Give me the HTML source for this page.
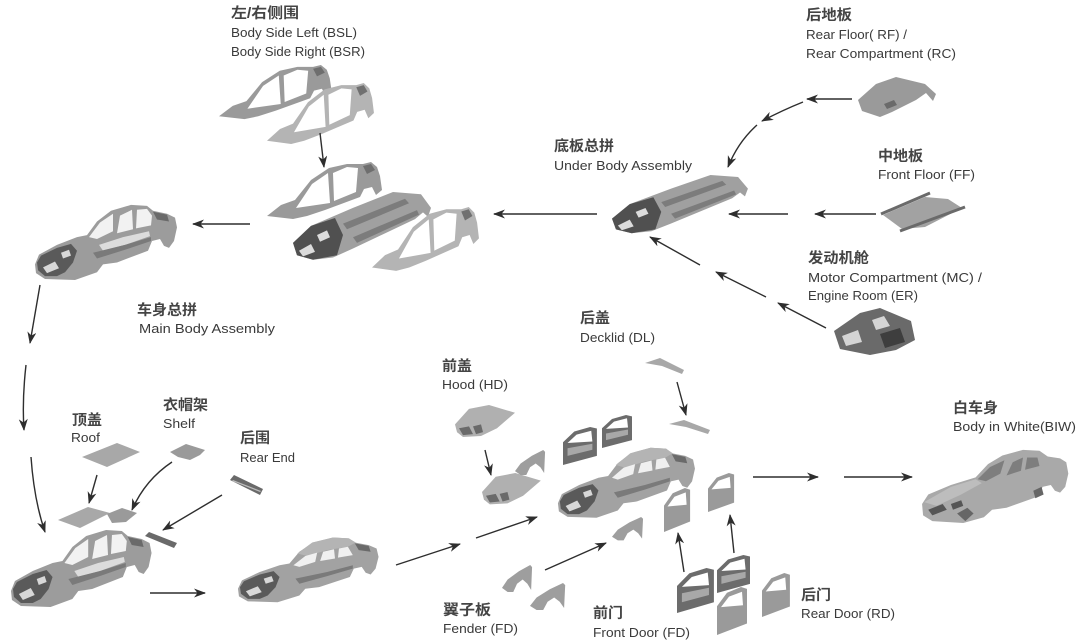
<!DOCTYPE html>
<html>
<head>
<meta charset="utf-8">
<style>
html,body{margin:0;padding:0;background:#fff;}
svg{display:block;}
.cn{font-family:"Liberation Sans","Noto Sans CJK SC",sans-serif;font-size:14.5px;font-weight:bold;fill:#444;}
.en{font-family:"Liberation Sans","Noto Sans CJK SC",sans-serif;font-size:12.5px;fill:#3a3a3a;}
.ar{stroke:#2e2e2e;stroke-width:1.4;fill:none;marker-end:url(#ah);}
</style>
</head>
<body>
<svg width="1080" height="643" viewBox="0 0 1080 643" xmlns="http://www.w3.org/2000/svg">
<defs>
  <marker id="ah" markerUnits="userSpaceOnUse" markerWidth="12" markerHeight="10" refX="11" refY="4.5" orient="auto">
    <path d="M0,0 L12,4.5 L0,9 L3.5,4.5 Z" fill="#2e2e2e"/>
  </marker>
  <!-- open frame car, 144x80 -->
  <g id="car">
    <path fill="#9c9c9c" d="M2,64 L6,54 L24,44 L44,36 L54,34 L64,20 L78,9 L98,3 L114,4 L120,9 L134,12 L142,16 L144,26 L141,40 L136,47 L131,45 L127,38 L119,40 L115,50 L84,62 L70,64 L64,72 L42,80 L12,79 L3,73 Z"/>
    <path fill="#f2f2f2" d="M56,36 L67,21 L80,12 L80,30 L64,38 Z M84,32 L87,14 L99,8 L100,28 Z M103,27 L104,8 L114,7 L119,14 L118,24 Z"/>
    <path fill="#dcdcdc" d="M66,44 L90,36 L116,30 L117,35 L92,44 L70,50 Z"/>
    <path fill="#7a7a7a" d="M60,52 L92,44 L118,36 L118,40 L92,49 L64,58 Z"/>
    <path fill="#5a5a5a" d="M4,62 L8,55 L24,47 L38,43 L44,50 L40,62 L32,72 L24,76 L12,76 L5,70 Z"/>
    <path fill="#d8d8d8" d="M10,67 L22,61 L26,68 L14,73 Z M28,52 L36,49 L38,55 L30,58 Z"/>
    <path fill="#6a6a6a" d="M120,10 L134,13 L136,20 L124,18 Z"/>
  </g>
  <!-- car with roof -->
  <g id="carRoof">
    <path fill="#a2a2a2" d="M2,64 L6,54 L24,44 L44,36 L54,34 L64,20 L78,9 L98,3 L114,4 L120,9 L134,12 L142,16 L144,26 L141,40 L136,47 L131,45 L127,38 L119,40 L115,50 L84,62 L70,64 L64,72 L42,80 L12,79 L3,73 Z"/>
    <path fill="#b4b4b4" d="M62,22 L77,9 L98,3 L114,4 L121,9 L113,14 L92,18 L72,25 Z"/>
    <path fill="#f0f0f0" d="M58,36 L70,25 L82,21 L80,32 L64,38 Z M85,31 L88,20 L99,17 L100,28 Z M103,27 L104,16 L113,14 L118,24 Z"/>
    <path fill="#7a7a7a" d="M60,52 L92,44 L118,36 L118,40 L92,49 L64,58 Z"/>
    <path fill="#5a5a5a" d="M4,62 L8,55 L24,47 L38,43 L44,50 L40,62 L32,72 L24,76 L12,76 L5,70 Z"/>
    <path fill="#d8d8d8" d="M10,67 L22,61 L26,68 L14,73 Z M28,52 L36,49 L38,55 L30,58 Z"/>
    <path fill="#6a6a6a" d="M120,10 L134,13 L136,20 L124,18 Z"/>
  </g>
  <!-- side panel 115x58 -->
  <g id="side">
    <path fill="#9a9a9a" fill-rule="evenodd" d="M0,54 L14,43 L28,38 L44,18 L62,6 L80,2 L96,2 L104,0 L110,5 L113,14 L115,28 L109,33 L105,25 L97,27 L93,35 L58,48 L40,54 L26,57 Z M29,46 L45,22 L61,11 L63,41 Z M67,39 L66,11 L80,5 L91,6 L89,30 Z"/>
    <path fill="#6e6e6e" d="M96,4 L104,2 L108,8 L100,12 Z"/>
  </g>
  <g id="sideLight">
    <path fill="#b4b4b4" fill-rule="evenodd" d="M0,54 L14,43 L28,38 L44,18 L62,6 L80,2 L96,2 L104,0 L110,5 L113,14 L115,28 L109,33 L105,25 L97,27 L93,35 L58,48 L40,54 L26,57 Z M29,46 L45,22 L61,11 L63,41 Z M67,39 L66,11 L80,5 L91,6 L89,30 Z"/>
    <path fill="#707070" d="M96,4 L104,2 L108,8 L100,12 Z"/>
  </g>
  <!-- floor 140x60 -->
  <g id="floor">
    <path fill="#a0a0a0" d="M0,45 L18,30 L60,14 L100,0 L128,2 L138,14 L135,22 L130,18 L122,24 L60,50 L40,58 L20,60 L4,56 Z"/>
    <path fill="#7c7c7c" d="M50,28 L112,6 L116,10 L54,33 Z M60,40 L124,16 L126,20 L64,45 Z"/>
    <path fill="#505050" d="M0,45 L18,30 L42,23 L50,38 L44,56 L20,60 L4,56 Z"/>
    <path fill="#dcdcdc" d="M6,52 L18,46 L22,53 L10,57 Z M24,38 L34,34 L37,40 L27,44 Z"/>
  </g>
  <!-- door 30x50 -->
  <g id="door">
    <path fill="#9a9a9a" fill-rule="evenodd" d="M0,50 L0,20 L10,6 L24,0 L30,2 L30,38 Z M4,21 L12,10 L25,5 L26,19 Z"/>
  </g>
  <g id="doorDark">
    <path fill="#6c6c6c" fill-rule="evenodd" d="M0,50 L0,20 L10,6 L24,0 L30,2 L30,38 Z M4,21 L12,10 L25,5 L26,19 Z"/>
    <path fill="#a8a8a8" d="M4,28 L26,22 L26,30 L4,38 Z"/>
  </g>
  <!-- fender 32x26 -->
  <g id="fender">
    <path fill="#9e9e9e" d="M0,22 L6,14 L18,6 L30,0 L32,2 L31,24 L27,18 L22,14 L16,18 L12,26 L6,26 Z"/>
  </g>
  <!-- hood 60x34 -->
  <g id="hood">
    <path fill="#b0b0b0" d="M0,20 L14,4 L34,0 L60,8 L42,24 L26,32 L8,33 L2,28 Z"/>
    <path fill="#6a6a6a" d="M4,24 L14,22 L18,30 L8,31 Z M18,22 L26,20 L28,28 L21,30 Z"/>
  </g>
</defs>

<!-- ===== Graphics ===== -->
<use href="#side" transform="translate(219,65) scale(0.98,0.95)"/>
<use href="#sideLight" transform="translate(267,83) scale(0.93,1.07)"/>
<use href="#side" transform="translate(267,162) scale(1,1)"/>
<use href="#floor" transform="translate(293,192) scale(1.0,1.13)"/>
<use href="#sideLight" transform="translate(372,207) scale(0.93,1.12)"/>
<use href="#car" transform="translate(33,202) scale(1,0.975)"/>
<use href="#floor" transform="translate(612,175) scale(0.985,0.97)"/>
<!-- Rear floor -->
<path fill="#9a9a9a" d="M858,100 L876,84 L896,77 L925,84 L936,94 L933,101 L926,93 L916,100 L892,112 L880,117 L862,111 Z"/>
<path fill="#6a6a6a" d="M884,104 L894,100 L897,105 L887,109 Z"/>
<!-- Front floor -->
<path fill="#a2a2a2" d="M883,215 L925,197 L948,199 L962,208 L925,227 L902,229 Z"/>
<path stroke="#6a6a6a" stroke-width="3" d="M881,214 L930,193 M900,231 L965,207" fill="none"/>
<!-- Motor compartment -->
<path fill="#6a6a6a" d="M834,331 L860,313 L880,308 L911,321 L915,340 L896,350 L870,355 L840,349 Z"/>
<path fill="#d4d4d4" d="M842,336 L858,330 L862,342 L846,346 Z M872,320 L884,316 L890,326 L876,330 Z"/>
<path fill="#3e3e3e" d="M880,334 L900,328 L905,342 L885,348 Z"/>
<!-- Roof / Shelf / Rear end -->
<path fill="#a8a8a8" d="M82,457 L117,443 L140,452 L107,467 Z"/>
<path fill="#9a9a9a" d="M170,452 L186,444 L205,450 L200,455 L190,460 L178,457 Z"/>
<path fill="#6a6a6a" d="M230,480 L234,475 L263,489 L260,495 Z"/>
<path fill="#bbb" d="M233,480 L261,491 L260,492 L232,481 Z"/>
<use href="#car" transform="translate(9,527) scale(0.99,1.0)"/>
<path fill="#a8a8a8" d="M58,520 L88,507 L110,513 L80,528 Z"/>
<path fill="#9a9a9a" d="M107,514 L122,508 L137,513 L126,522 L112,523 Z"/>
<path fill="#6a6a6a" d="M145,536 L149,532 L177,543 L174,548 Z"/>
<use href="#carRoof" transform="translate(236,535) scale(0.99,0.84)"/>
<!-- center assembly -->
<use href="#hood" transform="translate(455,405) scale(1,0.97)"/>
<use href="#hood" transform="translate(482,473) scale(0.98,0.95)"/>
<use href="#fender" transform="translate(515,450) scale(0.94,0.96)"/>
<use href="#doorDark" transform="translate(563,427) scale(1.13,0.76)"/>
<use href="#doorDark" transform="translate(602,415) scale(1.0,0.66)"/>
<path fill="#a8a8a8" d="M645,363 L660,358 L684,370 L682,374 L662,366 Z"/>
<path fill="#a8a8a8" d="M669,424 L684,420 L710,430 L708,434 L686,427 Z"/>
<use href="#carRoof" transform="translate(556,445) scale(0.965,0.91)"/>
<use href="#fender" transform="translate(612,517) scale(0.97,0.9)"/>
<use href="#fender" transform="translate(502,565) scale(0.94,1.04)"/>
<use href="#fender" transform="translate(530,583) scale(1.1,1.04)"/>
<use href="#door" transform="translate(664,488) scale(0.87,0.88)"/>
<use href="#door" transform="translate(708,473) scale(0.87,0.78)"/>
<use href="#doorDark" transform="translate(677,568) scale(1.23,0.9)"/>
<use href="#doorDark" transform="translate(717,555) scale(1.1,0.76)"/>
<use href="#door" transform="translate(717,587) scale(1.0,0.96)"/>
<use href="#door" transform="translate(762,573) scale(0.93,0.88)"/>
<!-- BIW -->
<g transform="translate(920,447) scale(1.03,0.95)">
  <path fill="#a9a9a9" d="M2,60 L8,50 L30,40 L54,32 L66,18 L80,9 L100,3 L116,4 L124,10 L136,12 L142,16 L144,28 L141,42 L136,48 L131,46 L127,40 L119,42 L115,52 L84,64 L70,66 L62,74 L42,80 L12,78 L3,72 Z"/>
  <path fill="#7e7e7e" d="M56,34 L68,21 L82,14 L78,28 L64,36 Z M84,30 L90,16 L100,11 L98,25 Z M102,24 L104,11 L114,11 L116,20 Z"/>
  <path fill="#bdbdbd" d="M4,58 L30,42 L54,34 L60,38 L40,50 L16,62 Z"/>
  <path fill="#555" d="M8,66 L22,60 L26,66 L12,72 Z M30,60 L40,56 L42,62 L32,66 Z"/>
  <path fill="#666" d="M36,70 L46,64 L52,70 L44,78 Z M110,46 L118,42 L120,50 L112,54 Z"/>
</g>

<!-- ===== Arrows ===== -->
<path class="ar" d="M320,133 L324,167"/>
<path class="ar" d="M250,224 L193,224"/>
<path class="ar" d="M597,214 L494,214"/>
<path class="ar" d="M852,99 L807,99"/>
<path class="ar" d="M803,102 Q783,110 762,121"/>
<path class="ar" d="M757,125 Q738,142 728,167"/>
<path class="ar" d="M788,214 L729,214"/>
<path class="ar" d="M876,214 L815,214"/>
<path class="ar" d="M700,265 L650,237"/>
<path class="ar" d="M766,297 L716,272"/>
<path class="ar" d="M826,328 L778,303"/>
<path class="ar" d="M40,285 L30,343"/>
<path class="ar" d="M26,365 Q22,400 24,430"/>
<path class="ar" d="M31,457 Q34,500 45,532"/>
<path class="ar" d="M97,475 L89,503"/>
<path class="ar" d="M172,462 Q145,480 132,510"/>
<path class="ar" d="M222,495 L163,530"/>
<path class="ar" d="M150,593 L205,593"/>
<path class="ar" d="M396,565 L460,544"/>
<path class="ar" d="M476,538 L537,517"/>
<path class="ar" d="M485,450 L491,475"/>
<path class="ar" d="M677,382 L686,415"/>
<path class="ar" d="M545,570 L606,543"/>
<path class="ar" d="M684,572 L678,533"/>
<path class="ar" d="M734,553 L730,515"/>
<path class="ar" d="M753,477 L818,477"/>
<path class="ar" d="M844,477 L912,477"/>

<!-- ===== Text ===== -->
<text class="cn" x="231" y="18" textLength="68" lengthAdjust="spacingAndGlyphs">左/右侧围</text>
<text class="en" x="231" y="37" textLength="126" lengthAdjust="spacingAndGlyphs">Body Side Left  (BSL)</text>
<text class="en" x="231" y="56" textLength="134" lengthAdjust="spacingAndGlyphs">Body Side Right (BSR)</text>

<text class="cn" x="806" y="20" textLength="46" lengthAdjust="spacingAndGlyphs">后地板</text>
<text class="en" x="806" y="39" textLength="101" lengthAdjust="spacingAndGlyphs">Rear Floor( RF) /</text>
<text class="en" x="806" y="58" textLength="150" lengthAdjust="spacingAndGlyphs">Rear Compartment (RC)</text>

<text class="cn" x="554" y="151" textLength="60" lengthAdjust="spacingAndGlyphs">底板总拼</text>
<text class="en" x="554" y="170" textLength="138" lengthAdjust="spacingAndGlyphs">Under Body Assembly</text>

<text class="cn" x="878" y="161" textLength="45" lengthAdjust="spacingAndGlyphs">中地板</text>
<text class="en" x="878" y="179" textLength="97" lengthAdjust="spacingAndGlyphs">Front Floor (FF)</text>

<text class="cn" x="808" y="263" textLength="61" lengthAdjust="spacingAndGlyphs">发动机舱</text>
<text class="en" x="808" y="282" textLength="174" lengthAdjust="spacingAndGlyphs">Motor Compartment (MC) /</text>
<text class="en" x="808" y="300" textLength="110" lengthAdjust="spacingAndGlyphs">Engine Room (ER)</text>

<text class="cn" x="137" y="315" textLength="60" lengthAdjust="spacingAndGlyphs">车身总拼</text>
<text class="en" x="139" y="333" textLength="136" lengthAdjust="spacingAndGlyphs">Main Body  Assembly</text>

<text class="cn" x="580" y="323" textLength="30" lengthAdjust="spacingAndGlyphs">后盖</text>
<text class="en" x="580" y="342" textLength="75" lengthAdjust="spacingAndGlyphs">Decklid (DL)</text>

<text class="cn" x="442" y="371" textLength="30" lengthAdjust="spacingAndGlyphs">前盖</text>
<text class="en" x="442" y="389" textLength="66" lengthAdjust="spacingAndGlyphs">Hood (HD)</text>

<text class="cn" x="72" y="425" textLength="30" lengthAdjust="spacingAndGlyphs">顶盖</text>
<text class="en" x="71" y="442" textLength="29" lengthAdjust="spacingAndGlyphs">Roof</text>

<text class="cn" x="163" y="410" textLength="45" lengthAdjust="spacingAndGlyphs">衣帽架</text>
<text class="en" x="163" y="428" textLength="32" lengthAdjust="spacingAndGlyphs">Shelf</text>

<text class="cn" x="240" y="443" textLength="30" lengthAdjust="spacingAndGlyphs">后围</text>
<text class="en" x="240" y="462" textLength="55" lengthAdjust="spacingAndGlyphs">Rear End</text>

<text class="cn" x="953" y="413" textLength="45" lengthAdjust="spacingAndGlyphs">白车身</text>
<text class="en" x="953" y="431" textLength="123" lengthAdjust="spacingAndGlyphs">Body in White(BIW)</text>

<text class="cn" x="443" y="615" textLength="48" lengthAdjust="spacingAndGlyphs">翼子板</text>
<text class="en" x="443" y="633" textLength="75" lengthAdjust="spacingAndGlyphs">Fender (FD)</text>

<text class="cn" x="593" y="618" textLength="30" lengthAdjust="spacingAndGlyphs">前门</text>
<text class="en" x="593" y="637" textLength="97" lengthAdjust="spacingAndGlyphs">Front Door (FD)</text>

<text class="cn" x="801" y="600" textLength="30" lengthAdjust="spacingAndGlyphs">后门</text>
<text class="en" x="801" y="618" textLength="94" lengthAdjust="spacingAndGlyphs">Rear Door (RD)</text>
</svg>
</body>
</html>
